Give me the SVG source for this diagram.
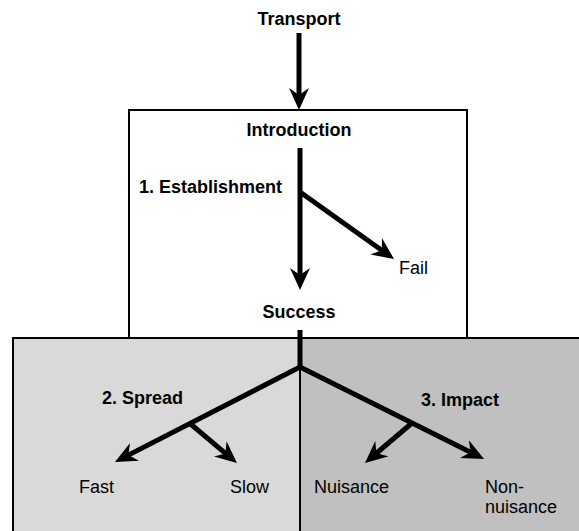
<svg xmlns="http://www.w3.org/2000/svg" width="579" height="531" viewBox="0 0 579 531">
  <style>
    .lbl { font-family: "Liberation Sans", Arial, sans-serif; font-size: 18px; fill: #000; }
    .b { font-weight: bold; }
    .box { stroke: #000; stroke-width: 2; }
    .arr { fill: none; stroke: #000; stroke-width: 5; stroke-linejoin: miter; }
  </style>
  <defs>
    <marker id="ah" viewBox="0 0 22 20" refX="12" refY="10" markerWidth="22" markerHeight="20" markerUnits="userSpaceOnUse" orient="auto">
      <path d="M0,0 L22,10 L0,20 L7,10 z" fill="#000"/>
    </marker>
  </defs>
  <rect width="579" height="531" fill="#fff"/>

  <g id="spread-region">
    <rect class="box" x="13" y="338" width="287" height="200" fill="#d9d9d9"/>
  </g>
  <g id="impact-region">
    <rect class="box" x="300" y="338" width="290" height="200" fill="#c0c0c0"/>
  </g>
  <g id="introduction-box">
    <rect class="box" x="129" y="110" width="338" height="228" fill="#fff"/>
  </g>

  <g id="connectors">
    <path class="arr" d="M299,33 L299,100" marker-end="url(#ah)"/>
    <path class="arr" d="M300,148 L300,280" marker-end="url(#ah)"/>
    <path class="arr" d="M300,192 L385.9,253.2" marker-end="url(#ah)"/>
    <path class="arr" d="M300,330 L300,367 L123.9,457.4" marker-end="url(#ah)"/>
    <path class="arr" d="M300,367 L475.1,454.5" marker-end="url(#ah)"/>
    <path class="arr" d="M190,423.5 L229.3,456.6" marker-end="url(#ah)"/>
    <path class="arr" d="M412,423 L372.6,456.5" marker-end="url(#ah)"/>
  </g>

  <g id="transport"><text class="lbl b" x="299" y="25" text-anchor="middle">Transport</text></g>
  <g id="introduction"><text class="lbl b" x="299" y="136" text-anchor="middle">Introduction</text></g>
  <g id="establishment"><text class="lbl b" x="139" y="193">1. Establishment</text></g>
  <g id="fail"><text class="lbl" x="399" y="274">Fail</text></g>
  <g id="success"><text class="lbl b" x="299" y="318" text-anchor="middle">Success</text></g>
  <g id="spread"><text class="lbl b" x="102" y="404">2. Spread</text></g>
  <g id="impact"><text class="lbl b" x="421" y="406">3. Impact</text></g>
  <g id="fast"><text class="lbl" x="79" y="493">Fast</text></g>
  <g id="slow"><text class="lbl" x="230" y="493">Slow</text></g>
  <g id="nuisance"><text class="lbl" x="314" y="493">Nuisance</text></g>
  <g id="non-nuisance"><text class="lbl" x="485" y="493">Non-</text><text class="lbl" x="485" y="513">nuisance</text></g>
</svg>
